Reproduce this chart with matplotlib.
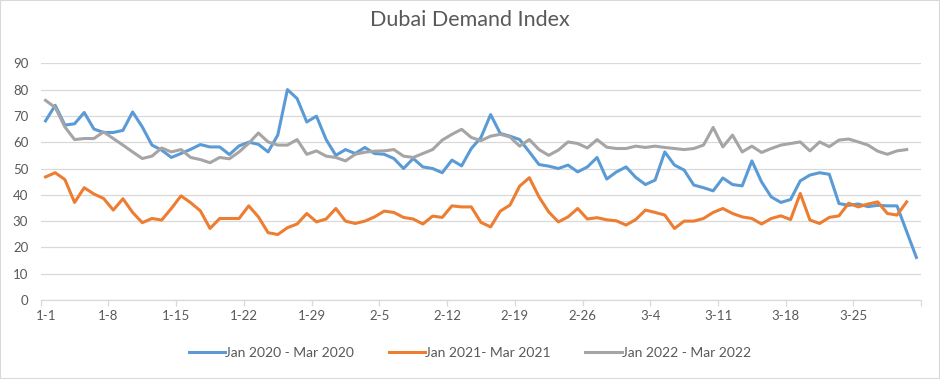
import numpy as np
import matplotlib
matplotlib.use("Agg")
import matplotlib.pyplot as plt
import matplotlib.transforms as mtransforms
from matplotlib.patches import Rectangle

plt.rcParams["font.family"] = ["Lato", "DejaVu Sans"]

# daily index values, 1 Jan - 31 Mar
jan_mar_2020 = [68.1, 74, 66.5, 67, 71.3, 65, 63.7, 63.7, 64.5, 71.5,
                65.8, 58.9, 57, 54.2, 55.7, 57.3, 59.1, 58.2, 58.2, 55.3,
                58.6, 60, 59.2, 56.3, 62.7, 80, 76.6, 67.7, 69.9, 61,
                55, 57.2, 55.7, 58, 55.7, 55.4, 53.8, 50, 53.8, 50.6,
                50, 48.4, 53.2, 51, 57.6, 61.8, 70.5, 63.3, 62.3, 61,
                56.3, 51.5, 50.9, 50, 51.3, 48.7, 50.6, 54.2, 46, 48.7,
                50.6, 46.6, 43.9, 45.6, 56.3, 51.3, 49.4, 43.7, 42.7, 41.5,
                46.4, 43.9, 43.4, 52.9, 44.9, 39.2, 37.1, 38.2, 45.3, 47.5,
                48.4, 47.8, 36.7, 36, 36.5, 35.5, 36, 35.8, 35.8, 26, 16.2]
jan_mar_2021 = [46.8, 48.4, 45.8, 37.1, 42.7, 40.3, 38.6, 34.2, 38.5, 33.3,
                29.4, 31, 30.4, 34.8, 39.6, 37, 33.9, 27.2, 31, 31,
                31, 35.8, 31.6, 25.6, 24.9, 27.5, 28.9, 32.9, 29.7, 30.8,
                34.8, 30, 29.1, 30, 31.6, 33.8, 33.3, 31.4, 30.8, 28.9,
                31.9, 31.4, 35.8, 35.4, 35.4, 29.5, 27.8, 33.8, 36.1, 43.3,
                46.5, 39.2, 33.5, 29.7, 31.6, 34.8, 30.8, 31.3, 30.5, 30.1,
                28.5, 30.6, 34.2, 33.3, 32.3, 27.2, 30, 30, 31, 33.3,
                34.8, 32.9, 31.6, 31, 28.9, 31, 32, 30.6, 40.5, 30.4,
                29.1, 31.4, 32, 36.8, 35.4, 36.5, 37.3, 32.9, 32.3, 37.3]
jan_mar_2022 = [75.9, 73.2, 65.8, 61, 61.4, 61.4, 63.9, 61.4, 58.9, 56.3,
                53.8, 54.7, 57.8, 56.3, 57.2, 54.2, 53.4, 52.2, 54.2, 53.7,
                56.3, 59.6, 63.5, 60.1, 58.9, 58.9, 61, 55.4, 56.7, 54.7,
                54.2, 52.9, 55.4, 56.2, 56.6, 56.7, 57.2, 54.7, 54.2, 55.7,
                57.2, 60.8, 63, 64.9, 61.8, 60.6, 62.3, 63, 62, 58.5,
                61, 57.2, 55, 57, 60.1, 59.5, 57.8, 61, 58.1, 57.6,
                57.6, 58.5, 58, 58.5, 58, 57.6, 57.2, 57.6, 58.9, 65.6,
                58.2, 62.7, 56.3, 58.5, 56.1, 57.6, 58.9, 59.5, 60.1, 56.7,
                60.1, 58.3, 60.8, 61.2, 60.1, 58.9, 56.6, 55.4, 56.7, 57.2]

series_names = ["Jan 2020 - Mar 2020", "Jan 2021- Mar 2021", "Jan 2022 - Mar 2022"]
series_colours = ["#5B9BD5", "#ED7D31", "#A5A5A5"]
date_labels = ["1-1", "1-8", "1-15", "1-22", "1-29", "2-5", "2-12",
               "2-19", "2-26", "3-4", "3-11", "3-18", "3-25"]

TEXT = "#595959"
GRID = "#D9D9D9"


def plot_graph():
    fig = plt.figure(figsize=(9.4, 3.79), dpi=100)
    ax = fig.add_axes([0.0433, 0.2084, 0.9367, 0.6246])

    for vals, name, col in zip([jan_mar_2020, jan_mar_2021, jan_mar_2022],
                               series_names, series_colours):
        ax.plot(np.arange(len(vals)), vals, color=col, linewidth=2.2,
                label=name, solid_joinstyle="round")

    ndays = len(jan_mar_2020)
    ax.set_xlim(-0.5, ndays - 0.5)
    ax.set_ylim(0, 90)
    ax.set_yticks(np.arange(0, 91, 10))
    ax.yaxis.grid(True, color=GRID, linewidth=0.9)
    ax.set_axisbelow(True)

    tic_locs = np.arange(-0.5, ndays, 7)
    ax.set_xticks(tic_locs, date_labels + [""] * (len(tic_locs) - len(date_labels)))
    ax.tick_params(axis="x", direction="out", length=4, color=GRID, width=0.9,
                   labelsize=9.5, labelcolor=TEXT, pad=3)
    ax.tick_params(axis="y", length=0, labelsize=9.5, labelcolor=TEXT, pad=9)
    # first label sits a little inside the plot, like the original
    first = ax.get_xticklabels()[0]
    first.set_transform(first.get_transform() +
                        mtransforms.ScaledTranslation(5 / 100, 0, fig.dpi_scale_trans))

    for side in ["top", "right", "left"]:
        ax.spines[side].set_visible(False)
    ax.spines["bottom"].set_color(GRID)
    ax.spines["bottom"].set_linewidth(0.9)

    fig.text(0.5, 1 - 20 / 379, "Dubai Demand Index", ha="center", va="center",
             fontsize=15.5, color=TEXT)
    fig.legend(loc="center", bbox_to_anchor=(0.5, 1 - 353 / 379), ncol=3,
               frameon=False, fontsize=10, labelcolor=TEXT, handlelength=2.6,
               handletextpad=0.0, columnspacing=2.5)

    fig.patches.append(Rectangle((0, 0), 1, 1, transform=fig.transFigure,
                                 fill=False, edgecolor=GRID, linewidth=1.5))
    fig.savefig("out.png", dpi=100)


def main():
    plot_graph()


if __name__ == "__main__":
    main()
